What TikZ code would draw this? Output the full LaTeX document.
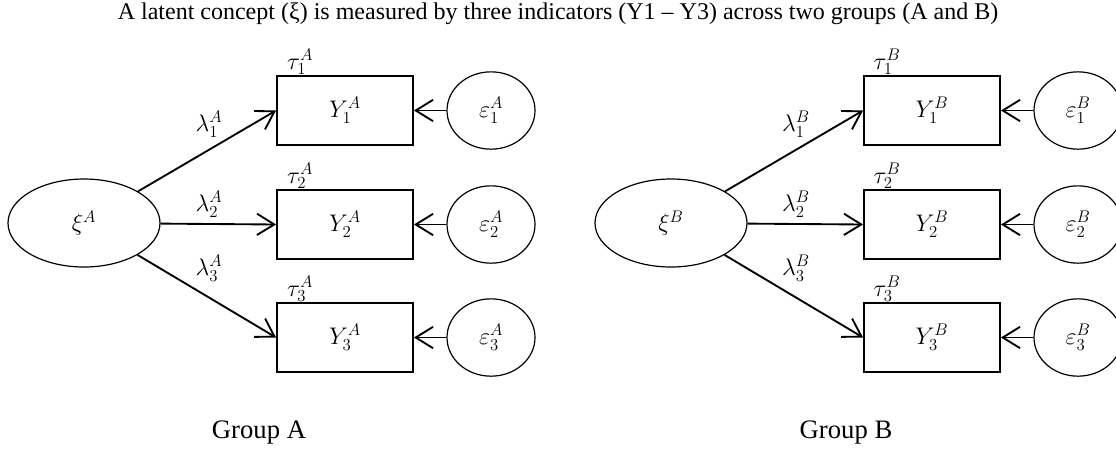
\RequirePackage{fix-cm}
\documentclass[tikz,border=0pt]{standalone}
\usepackage{fontspec}
\usetikzlibrary{arrows.meta,shapes.geometric}
\newfontfamily\capfont{Liberation Serif}

\begin{document}
\begin{tikzpicture}[x=0.75pt,y=-0.75pt,
    latent/.style={ellipse,draw,line width=0.9pt,minimum width=114pt,minimum height=66pt,
      inner sep=0pt,font=\fontsize{18}{20}\selectfont},
    indicator/.style={rectangle,draw,line width=1.4pt,minimum width=102pt,minimum height=52pt,
      font=\fontsize{18}{20}\selectfont},
    errnode/.style={ellipse,draw,line width=0.9pt,minimum width=66pt,minimum height=58pt,
      inner sep=0pt,font=\fontsize{18}{20}\selectfont},
    coef/.style={inner sep=0pt,font=\fontsize{18}{20}\selectfont},
    grouplabel/.style={font=\capfont\fontsize{20}{22}\selectfont},
    arrow/.style={-{Straight Barb[length=13pt,width=16pt]},line width=1.4pt}]
  \useasboundingbox (0,0) rectangle (1116,451);
  \node[font=\capfont\fontsize{18}{20}\selectfont] (title) at (558,14)
    {A latent concept (ξ) is measured by three indicators (Y1 – Y3) across two groups (A and B)};
  % one measurement model per group
  \foreach \g/\dx in {A/0,B/587} {
    \node[latent] (xi\g) at (84+\dx,223) {$\xi^{\g}$};
    \foreach \i/\y/\ly in {1/110.5/124,2/224.5/204,3/337.5/268} {
      \node[indicator] (Y\g\i) at (345+\dx,\y) {$Y_{\i}^{\g}$};
      \node[errnode] (e\g\i) at (491+\dx,\y) {$\varepsilon_{\i}^{\g}$};
      \node[coef] (tau\g\i) at ([shift={(24,-13)}]Y\g\i.north west) {$\tau_{\i}^{\g}$};
      \node[coef] (lam\g\i) at (209+\dx,\ly) {$\lambda_{\i}^{\g}$};
      \draw[arrow] (xi\g) -- (Y\g\i.west);
      \draw[arrow] (e\g\i) -- (Y\g\i);
    }
    \node[grouplabel] (group\g) at (259+\dx,432) {Group \g};
  }
\end{tikzpicture}
\end{document}
